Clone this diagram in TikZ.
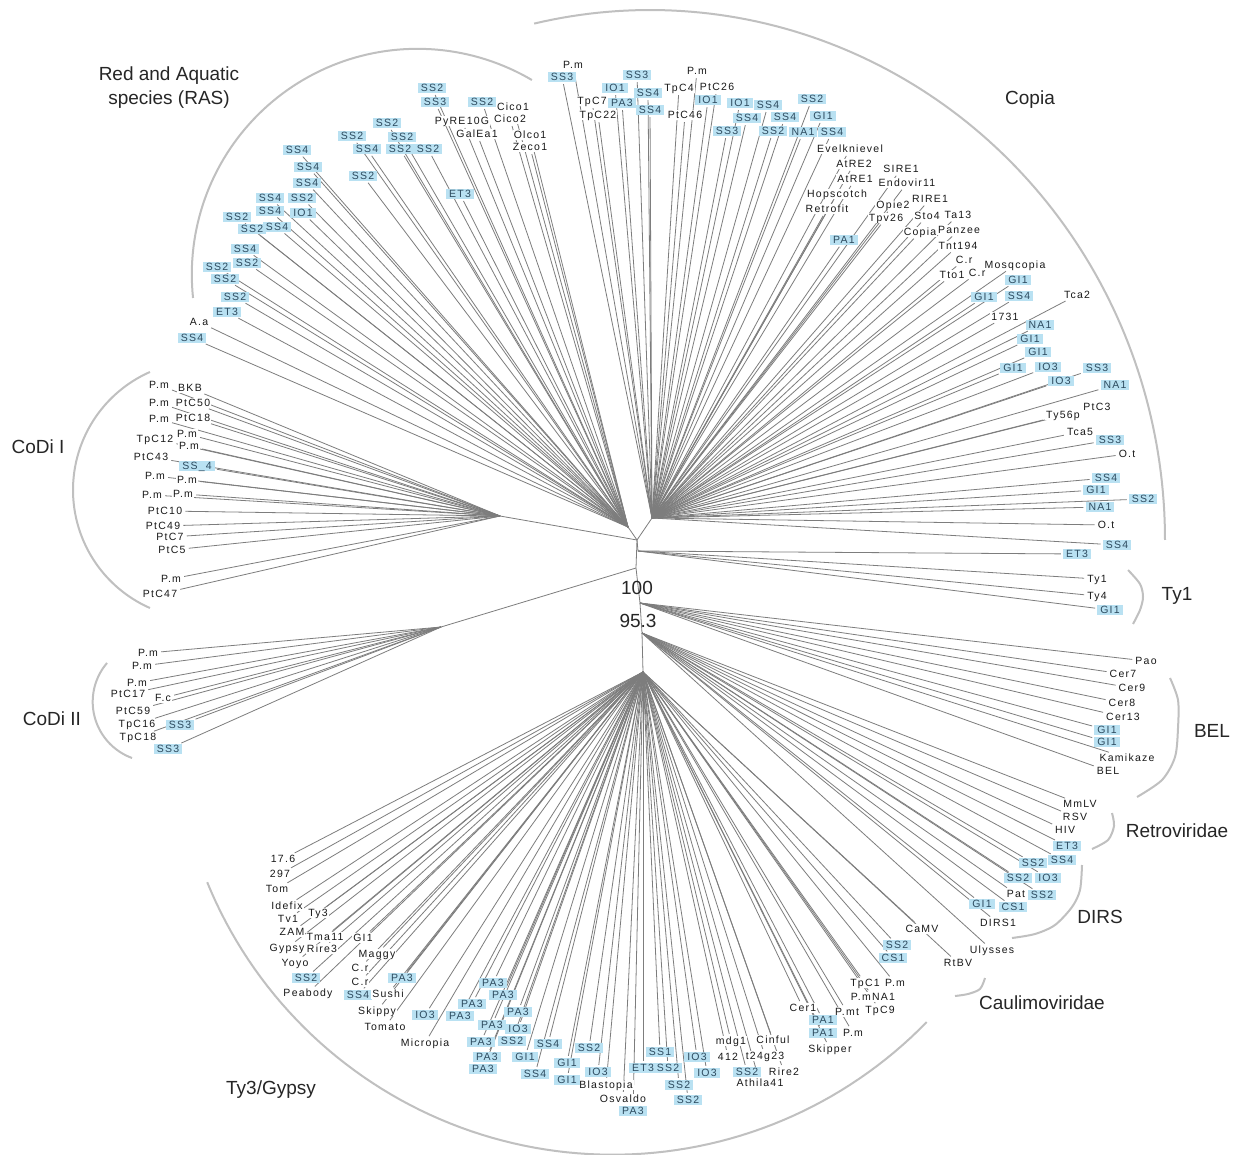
\documentclass[tikz,border=0pt]{standalone}
\usepackage{fontspec}
\setmainfont{Liberation Sans}
\newfontfamily\labfont[LetterSpace=12]{Liberation Sans}
\pgfdeclarelayer{bg}
\pgfsetlayers{bg,main}
\definecolor{boxblue}{RGB}{185,225,242}
\definecolor{boxtext}{RGB}{45,75,95}
\definecolor{branch}{RGB}{125,125,125}
\definecolor{grpc}{RGB}{192,192,192}
\tikzset{
 lab/.style={font={\labfont\fontsize{10.5}{12}\selectfont}, inner xsep=1pt, inner ysep=1pt, text height=7.6pt, text depth=0.3pt},
 kl/.style={lab, fill=white, text=black!90},
 bl/.style={lab, fill=boxblue, text=boxtext, inner xsep=3pt},
 br/.style={draw=branch, line width=0.8pt, shorten >=2pt},
 tr/.style={draw=branch, line width=0.8pt},
 grparc/.style={draw=grpc, line width=2pt},
 big/.style={font={\fontsize{19}{24}\selectfont}, text=black!85, align=center},
}
\newcounter{lf}
\newcommand\KL[4]{\stepcounter{lf}\edef\curnm{L\number\value{lf}}\node[kl] (\curnm) at (#1,#2) {#3};\begin{pgfonlayer}{bg}\draw[br] (#4) -- (\curnm);\end{pgfonlayer}}
\newcommand\BL[4]{\stepcounter{lf}\edef\curnm{L\number\value{lf}}\node[bl] (\curnm) at (#1,#2) {#3};\begin{pgfonlayer}{bg}\draw[br] (#4) -- (\curnm);\end{pgfonlayer}}
\begin{document}
\begin{tikzpicture}[x=1pt,y=-1pt]
\useasboundingbox (0,0) rectangle (1233,1155);
\begin{pgfonlayer}{bg}
\fill[white] (0,0) rectangle (1233,1155);
\end{pgfonlayer}
% internal nodes
\coordinate (C0) at (637,540);
\coordinate (C1) at (636,568);
\coordinate (C2) at (640,603);
\coordinate (C2b) at (642,633);
\coordinate (C3) at (643,672);
\coordinate (hRAS) at (628,527);
\coordinate (hCop) at (652,518);
\coordinate (hRt) at (638,551);
\coordinate (hCA) at (500,516);
\coordinate (hCB) at (441,627);
\begin{pgfonlayer}{bg}
\draw[tr] (C0) -- (C1) -- (C2) -- (C2b) -- (C3);
\draw[tr] (C0) -- (hRAS); \draw[tr] (C0) -- (hCop); \draw[tr] (C0) -- (hRt);
\draw[tr] (C0) -- (hCA); \draw[tr] (C1) -- (hCB);
\end{pgfonlayer}
% group arcs
\draw[grparc] plot[domain=174:300.5,samples=80] ({417.4+225.6*cos(\x)},{274.4+225.6*sin(\x)});
\draw[grparc] plot[domain=257:360,samples=100] ({650+515*cos(\x)},{540+530*sin(\x)});
\draw[grparc] plot[domain=113.8:246.2,samples=60] ({202+129*cos(\x)},{490+129*sin(\x)});
\draw[grparc] plot[domain=110:220.5,samples=40] ({152.5+59.8*cos(\x)},{701.8+59.8*sin(\x)});
\draw[grparc] plot[smooth] coordinates {(1128,570) (1140,584) (1143,597) (1140,610) (1133,624)};
\draw[grparc] plot[smooth] coordinates {(1170,678) (1178,700) (1178,728) (1175,757) (1162,780) (1137,797)};
\draw[grparc] plot[smooth] coordinates {(1112,813) (1114,826) (1108,840) (1092,849)};
\draw[grparc] plot[smooth] coordinates {(1082,865) (1080,890) (1072,907) (1055,925) (1035,934) (1012,938)};
\draw[grparc] plot[smooth] coordinates {(985,978) (980,989) (968,994) (955,996)};
\draw[grparc] plot[domain=44.2:157.8,samples=80] ({612.7+438*cos(\x)},{716.7+438*sin(\x)});
% group names
\node[big] (gRAS) at (169,88) {Red and Aquatic\\species (RAS)};
\node[big] (gCop) at (1030,100) {Copia};
\node[big] (gCA) at (38,447) {CoDi I};
\node[big] (gCB) at (52,719) {CoDi II};
\node[big] (gTy1) at (1177,596) {Ty1};
\node[big] (gBEL) at (1212,731) {BEL};
\node[big] (gRet) at (1177,831) {Retroviridae};
\node[big] (gDIRS) at (1100,917) {DIRS};
\node[big] (gCau) at (1042,1003) {Caulimoviridae};
\node[big] (gTy3) at (271,1090) {Ty3/Gypsy};
\node[big] (v100) at (637,588) {100};
\node[big] (v953) at (638,621) {95.3};
% RAS
\BL{432}{88}{SS2}{hRAS} \BL{435}{102}{SS3}{hRAS} \BL{482}{102}{SS2}{hRAS}
\KL{513}{107}{Cico1}{hRAS} \KL{510}{119}{Cico2}{hRAS} \KL{462}{121}{PyRE10G}{hRAS}
\KL{477}{134}{GalEa1}{hRAS} \KL{530}{135}{Olco1}{hRAS} \KL{530}{147}{Zeco1}{hRAS}
\BL{387}{123}{SS2}{hRAS} \BL{352}{136}{SS2}{hRAS} \BL{402}{137}{SS2}{hRAS}
\BL{367}{149}{SS4}{hRAS} \BL{400}{149}{SS2}{hRAS} \BL{428}{149}{SS2}{hRAS}
\BL{297}{150}{SS4}{hRAS} \BL{308}{167}{SS4}{hRAS} \BL{363}{176}{SS2}{hRAS}
\BL{307}{183}{SS4}{hRAS} \BL{460}{194}{ET3}{hRAS} \BL{270}{198}{SS4}{hRAS}
\BL{302}{198}{SS2}{hRAS} \BL{270}{211}{SS4}{hRAS} \BL{303}{213}{IO1}{hRAS}
\BL{237}{217}{SS2}{hRAS} \BL{252}{229}{SS2}{hRAS} \BL{277}{227}{SS4}{hRAS}
\BL{245}{249}{SS4}{hRAS} \BL{217}{267}{SS2}{hRAS} \BL{247}{263}{SS2}{hRAS}
\BL{225}{279}{SS2}{hRAS} \BL{235}{297}{SS2}{hRAS} \BL{227}{312}{ET3}{hRAS}
\KL{199}{322}{A.a}{hRAS} \BL{192}{338}{SS4}{hRAS}
% Copia
\KL{573}{65}{P.m}{hCop} \BL{562}{77}{SS3}{hCop} \BL{615}{88}{IO1}{hCop}
\BL{637}{75}{SS3}{hCop} \BL{648}{93}{SS4}{hCop} \KL{592}{101}{TpC7}{hCop}
\BL{622}{103}{PA3}{hCop} \BL{650}{110}{SS4}{hCop} \KL{598}{115}{TpC22}{hCop}
\KL{697}{71}{P.m}{hCop} \KL{679}{88}{TpC4}{hCop} \KL{717}{87}{PtC26}{hCop}
\KL{685}{115}{PtC46}{hCop} \BL{708}{100}{IO1}{hCop} \BL{740}{103}{IO1}{hCop}
\BL{768}{105}{SS4}{hCop} \BL{812}{99}{SS2}{hCop} \BL{747}{118}{SS4}{hCop}
\BL{785}{117}{SS4}{hCop} \BL{823}{116}{GI1}{hCop} \BL{727}{131}{SS3}{hCop}
\BL{773}{131}{SS2}{hCop} \BL{803}{132}{NA1}{hCop} \BL{832}{132}{SS4}{hCop}
\KL{850}{149}{Evelknievel}{hCop} \KL{854}{164}{AtRE2}{hCop} \KL{901}{169}{SIRE1}{hCop}
\KL{855}{179}{AtRE1}{hCop} \KL{907}{183}{Endovir11}{hCop} \KL{837}{194}{Hopscotch}{hCop}
\KL{930}{199}{RIRE1}{hCop} \KL{827}{209}{Retrofit}{hCop} \KL{893}{205}{Opie2}{hCop}
\KL{886}{218}{Tpv26}{hCop} \KL{927}{216}{Sto4}{hCop} \KL{958}{215}{Ta13}{hCop}
\BL{844}{240}{PA1}{hCop} \KL{920}{232}{Copia}{hCop} \KL{959}{230}{Panzee}{hCop}
\KL{958}{246}{Tnt194}{hCop} \KL{964}{260}{C.r}{hCop} \KL{1015}{265}{Mosqcopia}{hCop}
\KL{952}{275}{Tto1}{hCop} \KL{977}{273}{C.r}{hCop} \BL{1018}{280}{GI1}{hCop}
\BL{984}{297}{GI1}{hCop} \BL{1019}{296}{SS4}{hCop} \KL{1077}{295}{Tca2}{hCop}
\KL{1005}{317}{1731}{hCop} \BL{1040}{325}{NA1}{hCop} \BL{1030}{339}{GI1}{hCop}
\BL{1038}{352}{GI1}{hCop} \BL{1013}{368}{GI1}{hCop} \BL{1048}{367}{IO3}{hCop}
\BL{1097}{368}{SS3}{hCop} \BL{1061}{381}{IO3}{hCop} \BL{1115}{385}{NA1}{hCop}
\KL{1097}{407}{PtC3}{hCop} \KL{1063}{415}{Ty56p}{hCop} \KL{1080}{432}{Tca5}{hCop}
\BL{1110}{440}{SS3}{hCop} \KL{1127}{454}{O.t}{hCop} \BL{1106}{478}{SS4}{hCop}
\BL{1096}{490}{GI1}{hCop} \BL{1143}{499}{SS2}{hCop} \BL{1100}{507}{NA1}{hCop}
\KL{1106}{525}{O.t}{hCop} \BL{1117}{545}{SS4}{hCop}
% Ty1
\BL{1077}{554}{ET3}{hRt}
\KL{1097}{579}{Ty1}{hRt} \KL{1097}{596}{Ty4}{hRt} \BL{1110}{610}{GI1}{hRt}
% CoDi I
\KL{159}{385}{P.m}{hCA} \KL{190}{388}{BKB}{hCA} \KL{159}{403}{P.m}{hCA}
\KL{193}{403}{PtC50}{hCA} \KL{159}{419}{P.m}{hCA} \KL{193}{418}{PtC18}{hCA}
\KL{155}{439}{TpC12}{hCA} \KL{187}{434}{P.m}{hCA} \KL{189}{446}{P.m}{hCA}
\KL{151}{457}{PtC43}{hCA} \BL{197}{466}{SS\_4}{hCA} \KL{155}{476}{P.m}{hCA}
\KL{187}{480}{P.m}{hCA} \KL{152}{495}{P.m}{hCA} \KL{183}{494}{P.m}{hCA}
\KL{165}{511}{PtC10}{hCA} \KL{163}{526}{PtC49}{hCA} \KL{170}{537}{PtC7}{hCA}
\KL{172}{550}{PtC5}{hCA} \KL{171}{579}{P.m}{hCA} \KL{160}{594}{PtC47}{hCA}
% CoDi II
\KL{148}{653}{P.m}{hCB} \KL{142}{666}{P.m}{hCB} \KL{137}{683}{P.m}{hCB}
\KL{128}{694}{PtC17}{hCB} \KL{163}{698}{F.c}{hCB} \KL{133}{711}{PtC59}{hCB}
\KL{137}{724}{TpC16}{hCB} \BL{180}{725}{SS3}{hCB} \KL{138}{737}{TpC18}{hCB}
\BL{168}{749}{SS3}{hCB}
% BEL
\KL{1146}{661}{Pao}{C2} \KL{1123}{674}{Cer7}{C2} \KL{1132}{688}{Cer9}{C2}
\KL{1122}{703}{Cer8}{C2} \KL{1123}{717}{Cer13}{C2} \BL{1107}{730}{GI1}{C2}
\BL{1107}{742}{GI1}{C2} \KL{1127}{758}{Kamikaze}{C2} \KL{1108}{771}{BEL}{C2}
% Retroviridae
\KL{1080}{804}{MmLV}{C2b} \KL{1075}{817}{RSV}{C2b} \KL{1065}{830}{HIV}{C2b}
\BL{1067}{846}{ET3}{C2b}
% DIRS
\BL{1033}{863}{SS2}{C2b} \BL{1062}{860}{SS4}{C2b} \BL{1018}{878}{SS2}{C2b}
\BL{1048}{878}{IO3}{C2b} \KL{1016}{894}{Pat}{C2b} \BL{1042}{895}{SS2}{C2b}
\BL{982}{904}{GI1}{C2b} \BL{1013}{907}{CS1}{C2b} \KL{998}{923}{DIRS1}{C2b}
% Caulimoviridae
\KL{922}{929}{CaMV}{C3} \BL{897}{945}{SS2}{C3} \BL{893}{958}{CS1}{C3}
\KL{992}{950}{Ulysses}{C2b} \KL{958}{963}{RtBV}{C3}
% lower
\KL{865}{983}{TpC1}{C3} \KL{895}{983}{P.m}{C3} \KL{873}{997}{P.mNA1}{C3}
\KL{847}{1012}{P.mt}{C3} \KL{880}{1010}{TpC9}{C3} \KL{803}{1008}{Cer1}{C3}
\BL{823}{1020}{PA1}{C3} \BL{823}{1033}{PA1}{C3} \KL{853}{1033}{P.m}{C3}
\KL{830}{1049}{Skipper}{C3} \KL{731}{1041}{mdg1}{C3} \KL{773}{1040}{Cinful}{C3}
\KL{728}{1057}{412}{C3} \KL{765}{1056}{t24g23}{C3} \BL{747}{1072}{SS2}{C3}
\KL{784}{1072}{Rire2}{C3} \KL{760}{1083}{Athila41}{C3} \BL{697}{1057}{IO3}{C3}
\BL{707}{1073}{IO3}{C3} \BL{660}{1052}{SS1}{C3} \BL{643}{1068}{ET3}{C3}
\BL{668}{1068}{SS2}{C3} \BL{679}{1085}{SS2}{C3} \BL{688}{1100}{SS2}{C3}
\KL{606}{1085}{Blastopia}{C3} \KL{623}{1099}{Osvaldo}{C3} \BL{633}{1111}{PA3}{C3}
\BL{589}{1048}{SS2}{C3} \BL{598}{1072}{IO3}{C3} \BL{567}{1063}{GI1}{C3}
\BL{567}{1080}{GI1}{C3}
% Ty3/Gypsy
\KL{283}{859}{17.6}{C3} \KL{280}{874}{297}{C3} \KL{277}{889}{Tom}{C3}
\KL{287}{906}{Idefix}{C3} \KL{318}{913}{Ty3}{C3} \KL{288}{919}{Tv1}{C3}
\KL{292}{932}{ZAM}{C3} \KL{325}{937}{Tma11}{C3} \KL{363}{938}{GI1}{C3}
\KL{287}{948}{Gypsy}{C3} \KL{322}{949}{Rire3}{C3} \KL{377}{954}{Maggy}{C3}
\KL{295}{963}{Yoyo}{C3} \KL{360}{968}{C.r}{C3} \BL{306}{978}{SS2}{C3}
\KL{360}{982}{C.r}{C3} \BL{402}{978}{PA3}{C3} \KL{308}{993}{Peabody}{C3}
\BL{358}{995}{SS4}{C3} \KL{388}{994}{Sushi}{C3} \KL{377}{1011}{Skippy}{C3}
\BL{425}{1015}{IO3}{C3} \BL{460}{1016}{PA3}{C3} \KL{385}{1027}{Tomato}{C3}
\KL{425}{1043}{Micropia}{C3} \BL{493}{983}{PA3}{C3} \BL{503}{995}{PA3}{C3}
\BL{472}{1004}{PA3}{C3} \BL{518}{1012}{PA3}{C3} \BL{492}{1025}{PA3}{C3}
\BL{518}{1029}{IO3}{C3} \BL{481}{1042}{PA3}{C3} \BL{512}{1041}{SS2}{C3}
\BL{487}{1057}{PA3}{C3} \BL{525}{1057}{GI1}{C3} \BL{483}{1069}{PA3}{C3}
\BL{548}{1044}{SS4}{C3} \BL{535}{1074}{SS4}{C3}
\end{tikzpicture}
\end{document}
